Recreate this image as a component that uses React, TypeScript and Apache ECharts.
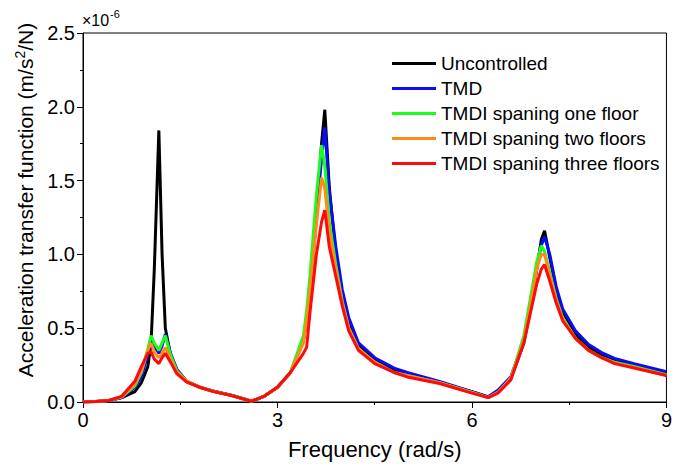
import React, { useEffect, useRef } from "react";
import * as echarts from "echarts";

const freq = [0, 0.2, 0.4, 0.6, 0.8, 0.9, 1.0, 1.05, 1.1, 1.17, 1.22, 1.27, 1.35, 1.45, 1.6, 1.8, 2.0, 2.3, 2.6, 2.8, 3.0, 3.2, 3.4, 3.45, 3.5, 3.6, 3.68, 3.73, 3.8, 3.9, 4.0, 4.1, 4.25, 4.5, 4.8, 5.0, 5.5, 6.0, 6.25, 6.4, 6.6, 6.8, 6.9, 7.0, 7.07, 7.12, 7.2, 7.3, 7.4, 7.6, 7.8, 8.0, 8.2, 8.5, 9.0];

const uncontrolled = [0, 0.003, 0.01, 0.03, 0.07, 0.13, 0.24, 0.4, 0.9, 1.84, 1.0, 0.5, 0.32, 0.21, 0.14, 0.1, 0.075, 0.045, 0.005, 0.04, 0.1, 0.2, 0.42, 0.55, 0.72, 1.25, 1.75, 1.98, 1.45, 1.0, 0.72, 0.54, 0.39, 0.29, 0.22, 0.19, 0.13, 0.07, 0.035, 0.07, 0.16, 0.4, 0.62, 0.9, 1.1, 1.16, 0.98, 0.76, 0.61, 0.46, 0.37, 0.32, 0.28, 0.25, 0.2];
const tmd = [0, 0.003, 0.01, 0.03, 0.1, 0.17, 0.32, 0.43, 0.38, 0.33, 0.38, 0.46, 0.33, 0.22, 0.14, 0.1, 0.075, 0.045, 0.005, 0.04, 0.1, 0.2, 0.42, 0.57, 0.75, 1.25, 1.65, 1.86, 1.42, 1.05, 0.76, 0.57, 0.4, 0.3, 0.23, 0.2, 0.14, 0.07, 0.035, 0.08, 0.17, 0.42, 0.65, 0.92, 1.06, 1.12, 1.0, 0.78, 0.63, 0.48, 0.39, 0.335, 0.295, 0.26, 0.205];
const tmdiOne = [0, 0.003, 0.01, 0.035, 0.11, 0.2, 0.36, 0.45, 0.4, 0.35, 0.4, 0.45, 0.32, 0.21, 0.14, 0.1, 0.073, 0.043, 0.005, 0.04, 0.1, 0.2, 0.45, 0.62, 0.85, 1.4, 1.74, 1.6, 1.22, 0.93, 0.68, 0.5, 0.36, 0.27, 0.2, 0.18, 0.13, 0.065, 0.03, 0.065, 0.16, 0.45, 0.7, 0.95, 1.06, 1.02, 0.88, 0.7, 0.57, 0.43, 0.35, 0.3, 0.27, 0.24, 0.185];
const tmdiTwo = [0, 0.003, 0.01, 0.035, 0.12, 0.21, 0.35, 0.4, 0.34, 0.3, 0.33, 0.37, 0.29, 0.2, 0.14, 0.1, 0.073, 0.043, 0.005, 0.04, 0.1, 0.2, 0.4, 0.55, 0.75, 1.2, 1.52, 1.45, 1.15, 0.9, 0.67, 0.5, 0.36, 0.27, 0.2, 0.18, 0.13, 0.065, 0.03, 0.065, 0.16, 0.42, 0.65, 0.9, 1.0, 1.0, 0.86, 0.69, 0.56, 0.43, 0.35, 0.3, 0.265, 0.235, 0.18];
const tmdiThree = [0, 0.003, 0.01, 0.04, 0.14, 0.24, 0.33, 0.34, 0.29, 0.26, 0.3, 0.33, 0.27, 0.19, 0.135, 0.1, 0.072, 0.042, 0.005, 0.04, 0.1, 0.2, 0.33, 0.37, 0.6, 1.0, 1.22, 1.3, 1.05, 0.85, 0.65, 0.48, 0.35, 0.26, 0.2, 0.17, 0.125, 0.06, 0.03, 0.06, 0.15, 0.4, 0.6, 0.8, 0.9, 0.93, 0.82, 0.67, 0.55, 0.43, 0.35, 0.3, 0.26, 0.23, 0.18];

const seriesNames = ["Uncontrolled", "TMD", "TMDI spaning one floor", "TMDI spaning two floors", "TMDI spaning three floors"];
const seriesValues = [uncontrolled, tmd, tmdiOne, tmdiTwo, tmdiThree];
const seriesColors = ["#000000", "#0a0aff", "#1aff1a", "#ff8a1a", "#ff0a0a"];

const FONT = "'Liberation Sans', Arial, sans-serif";

export default function App() {
  const ref = useRef<HTMLDivElement>(null);
  useEffect(() => {
    if (!ref.current) return;
    const chart = echarts.init(ref.current, null, { renderer: "svg" });
    chart.setOption({
      animation: false,
      backgroundColor: "#ffffff",
      grid: { left: 83, right: 5, top: 33, bottom: 66, show: true, borderColor: "#000", borderWidth: 1, backgroundColor: "transparent" },
      legend: {
        orient: "vertical",
        left: 387,
        top: 49,
        itemWidth: 44,
        itemHeight: 3,
        itemGap: 6,
        icon: "rect",
        textStyle: { fontSize: 19, color: "#000", fontFamily: FONT },
        data: seriesNames,
      },
      graphic: [
        { type: "text", left: 82, top: 12, style: { text: "×10", fontSize: 16, fill: "#000", fontFamily: FONT } },
        { type: "text", left: 110, top: 8, style: { text: "-6", fontSize: 11, fill: "#000", fontFamily: FONT } },
        {
          type: "text",
          x: 24,
          y: 200,
          rotation: Math.PI / 2,
          style: {
            text: "{a|Acceleration transfer function (m/s}{b|2}{a|/N)}",
            align: "center",
            verticalAlign: "middle",
            fill: "#000",
            fontFamily: FONT,
            rich: {
              a: { fontSize: 21, fontFamily: FONT, fill: "#000", verticalAlign: "bottom" },
              b: { fontSize: 14, fontFamily: FONT, fill: "#000", padding: [0, 0, 9, 0], verticalAlign: "bottom" },
            },
          },
        },
      ],
      xAxis: {
        type: "value",
        min: 0,
        max: 9,
        interval: 3,
        name: "Frequency (rad/s)",
        nameLocation: "middle",
        nameGap: 36,
        nameTextStyle: { fontSize: 22, color: "#000", fontFamily: FONT },
        axisLine: { show: true, lineStyle: { color: "#000", width: 1 } },
        axisTick: { show: true, length: 6, lineStyle: { color: "#000" } },
        minorTick: { show: true, splitNumber: 2, length: 3, lineStyle: { color: "#000" } },
        axisLabel: { fontSize: 20, color: "#000", fontFamily: FONT, margin: 8 },
        splitLine: { show: false },
      },
      yAxis: {
        type: "value",
        min: 0,
        max: 2.5,
        interval: 0.5,
        axisLine: { show: true, lineStyle: { color: "#000", width: 1 } },
        axisTick: { show: true, length: 6, lineStyle: { color: "#000" } },
        minorTick: { show: true, splitNumber: 2, length: 3, lineStyle: { color: "#000" } },
        axisLabel: { fontSize: 20, color: "#000", fontFamily: FONT, margin: 8, formatter: (v: number) => v.toFixed(1) },
        splitLine: { show: false },
      },
      series: seriesNames.map((name, i) => ({
        name,
        type: "line",
        showSymbol: false,
        symbol: "none",
        color: seriesColors[i],
        lineStyle: { width: 3, color: seriesColors[i] },
        data: freq.map((f, j) => [f, seriesValues[i][j]]),
        z: 2 + i,
      })),
    });
    return () => chart.dispose();
  }, []);
  return <div ref={ref} style={{ width: 675, height: 468, position: "absolute", left: 0, top: 0 }} />;
}
